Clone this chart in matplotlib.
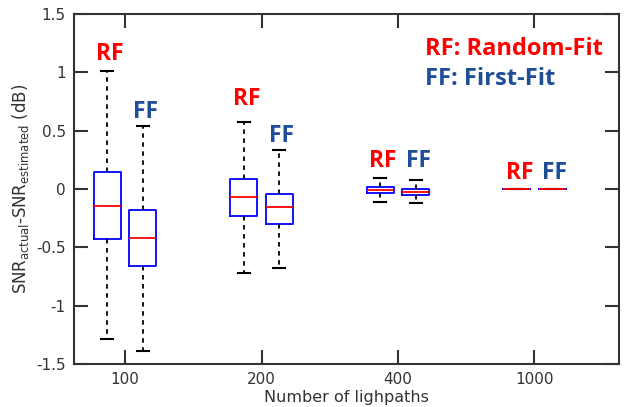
import matplotlib
matplotlib.use('Agg')
import matplotlib.pyplot as plt

# lightpath counts on the x axis
groups = ['100', '200', '400', '1000']

# Random-Fit boxes: whisker low, q1, median, q3, whisker high
rf_wlo = [-1.29, -0.72, -0.11, -0.004]
rf_q1 = [-0.43, -0.23, -0.037, -0.002]
rf_med = [-0.146, -0.07, -0.01, 0.0]
rf_q3 = [0.146, 0.086, 0.015, 0.002]
rf_whi = [1.01, 0.57, 0.097, 0.004]

# First-Fit boxes
ff_wlo = [-1.39, -0.68, -0.123, -0.004]
ff_q1 = [-0.66, -0.30, -0.054, -0.002]
ff_med = [-0.42, -0.155, -0.023, 0.0]
ff_q3 = [-0.18, -0.045, 0.0, 0.002]
ff_whi = [0.54, 0.334, 0.077, 0.004]

# heights of the RF / FF tags above each box
rf_tag = [1.16, 0.77, 0.24, 0.14]
ff_tag = [0.66, 0.45, 0.24, 0.14]

RED = '#ff0000'
NAVY = '#1f4e99'
GREY = '#333333'


def stats(lo, q1, med, q3, hi):
    return [dict(whislo=a, q1=b, med=c, q3=d, whishi=e, fliers=[])
            for a, b, c, d, e in zip(lo, q1, med, q3, hi)]


fig = plt.figure(figsize=(6.31, 4.07), dpi=100)
ax = fig.add_axes([0.1173, 0.1057, 0.8637, 0.8599])

pos = list(range(1, len(groups) + 1))
off = 0.13
rf_pos = [p - off for p in pos]
ff_pos = [p + off for p in pos]

style = dict(widths=0.2, showfliers=False,
             boxprops=dict(color='blue', linewidth=1.3),
             medianprops=dict(color='red', linewidth=1.3),
             whiskerprops=dict(color='black', linestyle=(0, (2.5, 2.5)), linewidth=1.3),
             capprops=dict(color='black', linewidth=1.5),
             capwidths=0.09)
ax.bxp(stats(rf_wlo, rf_q1, rf_med, rf_q3, rf_whi), positions=rf_pos, **style)
ax.bxp(stats(ff_wlo, ff_q1, ff_med, ff_q3, ff_whi), positions=ff_pos, **style)

tagfont = dict(family=['Open Sans', 'DejaVu Sans'], fontweight='bold', fontsize=16.5,
               ha='center', va='center')
for x, y in zip(rf_pos, rf_tag):
    ax.text(x + 0.02, y, 'RF', color=RED, **tagfont)
for x, y in zip(ff_pos, ff_tag):
    ax.text(x + 0.02, y, 'FF', color=NAVY, **tagfont)

legfont = dict(family=['Open Sans', 'DejaVu Sans'], fontweight='bold', fontsize=17,
               ha='left', va='center')
ax.text(3.2, 1.2, 'RF: Random-Fit', color=RED, **legfont)
ax.text(3.2, 0.94, 'FF: First-Fit', color=NAVY, **legfont)

ax.set_xlim(0.626, 4.62)
ax.set_ylim(-1.5, 1.5)
ax.set_xticks(pos)
ax.set_xticklabels(groups)
ax.set_yticks([-1.5, -1, -0.5, 0, 0.5, 1, 1.5])
ax.set_yticklabels(['-1.5', '-1', '-0.5', '0', '0.5', '1', '1.5'])
ax.tick_params(direction='in', length=10, width=1.5, color=GREY, labelcolor=GREY,
               labelsize=11, top=True, right=True, pad=6)
for sp in ax.spines.values():
    sp.set_color(GREY)
    sp.set_linewidth(1.5)

ax.set_xlabel('Number of lighpaths', fontsize=11.5, color=GREY, labelpad=2)
ax.set_ylabel(r'SNR$_{\mathrm{actual}}$-SNR$_{\mathrm{estimated}}$ (dB)', fontsize=12,
              color=GREY, labelpad=4)

fig.savefig('out.png', dpi=100)
